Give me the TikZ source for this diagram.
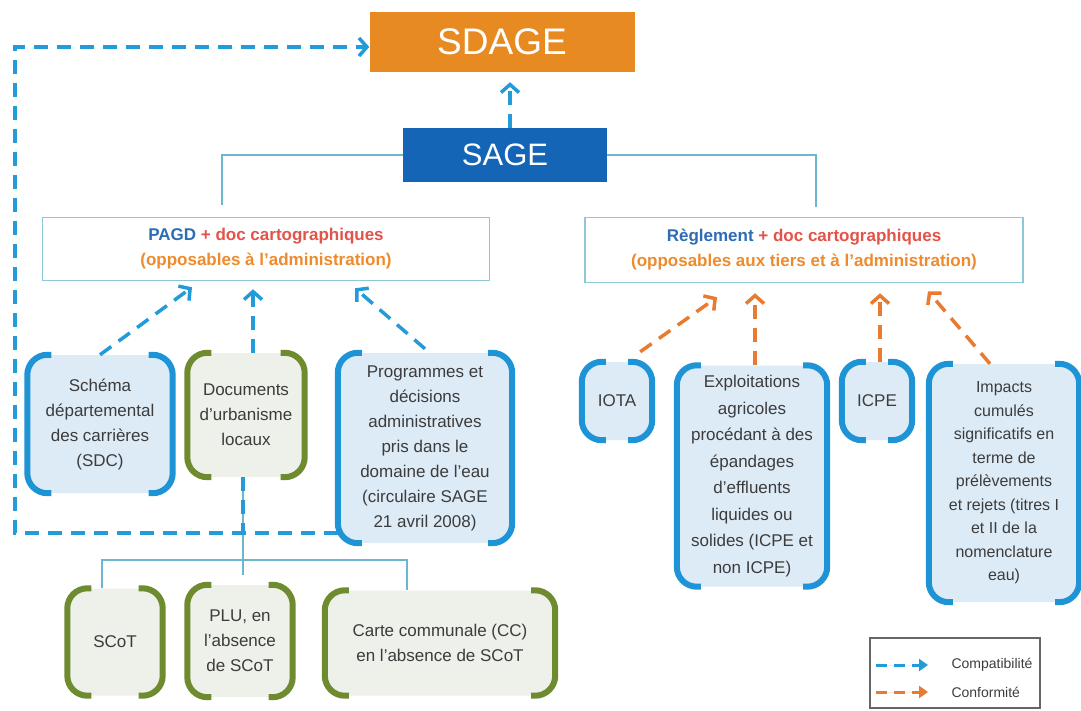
\documentclass[tikz,border=0pt]{standalone}
\usepackage{fontspec}
\setmainfont{Liberation Sans}
\usetikzlibrary{arrows.meta, positioning, calc}

\definecolor{sdageorange}{HTML}{E88A22}
\definecolor{sageblue}{HTML}{1565B7}
\definecolor{compatblue}{HTML}{239BD8}
\definecolor{conforange}{HTML}{E97B30}
\definecolor{treeblue}{HTML}{6DB6D0}
\definecolor{headborder}{HTML}{8CC8D6}
\definecolor{brblue}{HTML}{1E94D6}
\definecolor{brgreen}{HTML}{6E8B30}
\definecolor{fillblue}{HTML}{DDEBF7}
\definecolor{fillgreen}{HTML}{EEF0EA}
\definecolor{txtgrey}{HTML}{3C3C3C}
\definecolor{pagdblue}{HTML}{2C6DB3}
\definecolor{docred}{HTML}{E2534A}
\definecolor{opporange}{HTML}{EE8B2C}

\begin{document}
\begin{tikzpicture}[x=1pt, y=-1pt,
    topbox/.style={text=white, inner sep=0pt},
    headbox/.style={draw=headborder, line width=1.5pt, fill=white, align=center, inner sep=0pt, font=\bfseries\fontsize{17}{25}\selectfont},
    docbox/.style={rounded corners=16pt, align=center, text=txtgrey, inner sep=0pt, font=\fontsize{17}{25}\selectfont},
    bluebox/.style={docbox, fill=fillblue},
    greenbox/.style={docbox, fill=fillgreen},
    bracket/.style={line width=6pt, rounded corners=20pt},
    tree/.style={draw=treeblue, line width=1.3pt},
    compatline/.style={draw=compatblue, line width=3.5pt, dash pattern=on 14pt off 9pt},
    compat/.style={compatline, -{Straight Barb[length=8pt, width=18pt]}},
    conform/.style={draw=conforange, line width=3.5pt, dash pattern=on 14pt off 9pt, -{Straight Barb[length=8pt, width=18pt]}},
    legline/.style={line width=3pt, dash pattern=on 11pt off 7pt, -{Triangle[length=9pt, width=12pt]}},
    legtext/.style={anchor=west, text=txtgrey, font=\fontsize{14}{16}\selectfont}
]
    \useasboundingbox (0,0) rectangle (1081,711);

    % SDAGE / SAGE
    \node[topbox, fill=sdageorange, minimum width=265pt, minimum height=60pt, font=\fontsize{37}{40}\selectfont] (sdage) at (502,42) {SDAGE};
    \node[topbox, fill=sageblue, minimum width=204pt, minimum height=54pt, font=\fontsize{31}{34}\selectfont] (sage) at (505,155) {SAGE};

    % les deux volets
    \node[headbox, minimum width=447pt, minimum height=63pt] (pagd) at (266,249)
        {\textcolor{pagdblue}{PAGD} \textcolor{docred}{+ doc cartographiques}\\\textcolor{opporange}{(opposables à l'administration)}};
    \node[headbox, minimum width=438pt, minimum height=65pt] (reg) at (804,250)
        {\textcolor{pagdblue}{Règlement} \textcolor{docred}{+ doc cartographiques}\\\textcolor{opporange}{(opposables aux tiers et à l'administration)}};

    % compatibilite
    \node[bluebox, minimum width=145pt, minimum height=138pt] (sdc) at (100,424) {Schéma\\départemental\\des carrières\\(SDC)};
    \node[greenbox, minimum width=117pt, minimum height=124pt] (urba) at (246,415) {Documents\\d'urbanisme\\locaux};
    \node[bluebox, minimum width=174pt, minimum height=190pt] (prog) at (425,448) {Programmes et\\décisions\\administratives\\pris dans le\\domaine de l'eau\\(circulaire SAGE\\21 avril 2008)};
    \node[greenbox, minimum width=95pt, minimum height=107pt] (scot) at (115,642) {SCoT};
    \node[greenbox, minimum width=105pt, minimum height=112pt] (plu) at (240,641) {PLU, en\\l'absence\\de SCoT};
    \node[greenbox, minimum width=230pt, minimum height=105pt] (carte) at (440,643) {Carte communale (CC)\\en l'absence de SCoT};

    % conformite
    \node[bluebox, minimum width=70pt, minimum height=78pt] (iota) at (617,401) {IOTA};
    \node[bluebox, minimum width=150pt, minimum height=221pt, font=\fontsize{17}{26.5}\selectfont] (expl) at (752,476) {Exploitations\\agricoles\\procédant à des\\épandages\\d'effluents\\liquides ou\\solides (ICPE et\\non ICPE)};
    \node[bluebox, minimum width=70pt, minimum height=78pt] (icpe) at (877,401) {ICPE};
    \node[bluebox, minimum width=150pt, minimum height=238pt, font=\fontsize{16}{23.5}\selectfont] (impacts) at (1004,483) {Impacts\\cumulés\\significatifs en\\terme de\\prélèvements\\et rejets (titres I\\et II de la\\nomenclature\\eau)};

    \foreach \n/\c in {sdc/brblue, urba/brgreen, prog/brblue, scot/brgreen, plu/brgreen, carte/brgreen, iota/brblue, expl/brblue, icpe/brblue, impacts/brblue} {
        \draw[bracket, draw=\c] ([xshift=24pt]\n.north west) -- (\n.north west) -- (\n.south west) -- ([xshift=24pt]\n.south west);
        \draw[bracket, draw=\c] ([xshift=-24pt]\n.north east) -- (\n.north east) -- (\n.south east) -- ([xshift=-24pt]\n.south east);
    }

    % arborescence
    \draw[tree] (sage.west) -| ([xshift=-44pt,yshift=12pt]pagd.north);
    \draw[tree] (sage.east) -| ([xshift=12pt,yshift=10pt]reg.north);
    \coordinate (fork) at (243,560);
    \draw[tree] ([xshift=-3pt]urba.south) -- ([xshift=3pt,yshift=10pt]plu.north);
    \draw[tree] ([xshift=-13pt]scot.north) |- (fork) -| ([xshift=-33pt]carte.north);

    % fleches
    \coordinate (loop) at (15,533);
    \draw[compat] ([xshift=5pt]sage.north) -- ([xshift=8pt,yshift=-10pt]sdage.south);
    \draw[compat] (prog.west |- loop) -- (loop) |- ([yshift=-5pt]sdage.west);
    \draw[compatline] ([xshift=-3pt]urba.south) -- ([xshift=-3pt]urba.south |- loop);
    \draw[compat] (sdc.north) -- ([xshift=-74pt,yshift=-6pt]pagd.south);
    \draw[compat] ([xshift=7pt]urba.north) -- ([xshift=-13pt,yshift=-8pt]pagd.south);
    \draw[compat] ([yshift=4pt]prog.north) -- ([xshift=89pt,yshift=-7pt]pagd.south);
    \draw[conform] ([xshift=-12pt,yshift=10pt]iota.north east) -- ([xshift=-87pt,yshift=-14pt]reg.south);
    \draw[conform] ([xshift=3pt]expl.north) -- ([xshift=-49pt,yshift=-10pt]reg.south);
    \draw[conform] ([xshift=3pt]icpe.north) -- ([xshift=76pt,yshift=-10pt]reg.south);
    \draw[conform] ([xshift=-14pt]impacts.north) -- ([xshift=124pt,yshift=-8pt]reg.south);

    % legende
    \node[draw=gray!80!black, line width=1.2pt, minimum width=170pt, minimum height=70pt] (legend) at (955,673) {};
    \node[legtext] (lcompat) at (948,665) {Compatibilité};
    \node[legtext] (lconf) at (948,692) {Conformité};
    \coordinate (lgb) at (876,665);
    \coordinate (lgo) at (876,692);
    \draw[legline, draw=compatblue, fill=compatblue] (lgb) -- ([xshift=-20pt]lcompat.west);
    \draw[legline, draw=conforange, fill=conforange] (lgo) -- ([xshift=-20pt]lconf.west);
\end{tikzpicture}
\end{document}
